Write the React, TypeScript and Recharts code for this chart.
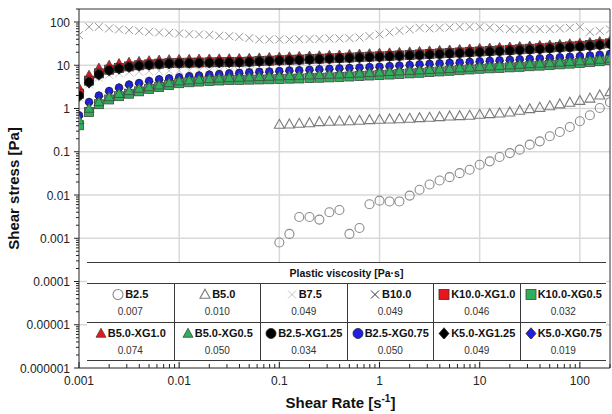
import React from "react";
import { ScatterChart, Scatter, XAxis, YAxis, ReferenceLine, Label } from "recharts";

const FONT = '"Liberation Sans", Arial, sans-serif';

// shear rate steps of the flow curves [1/s]
const SHEAR_RATE = [
  0.001, 0.00126, 0.00158, 0.002, 0.00251, 0.00316, 0.00398, 0.00501, 0.00631, 0.00794,
  0.01, 0.0126, 0.0158, 0.02, 0.0251, 0.0316, 0.0398, 0.0501, 0.0631, 0.0794,
  0.1, 0.126, 0.158, 0.2, 0.251, 0.316, 0.398, 0.501, 0.631, 0.794,
  1, 1.26, 1.58, 2, 2.51, 3.16, 3.98, 5.01, 6.31, 7.94,
  10, 12.6, 15.8, 20, 25.1, 31.6, 39.8, 50.1, 63.1, 79.4,
  100, 126, 158, 200,
];
// B2.5 and B5.0 were only measured from 0.1 1/s
const SHEAR_RATE_LOW = SHEAR_RATE.slice(20);

// shear stress [Pa]
const B2_5 = [
  0.0008, 0.00126, 0.0031, 0.0031, 0.0027, 0.004, 0.0045, 0.00126, 0.00173, 0.0061,
  0.0074, 0.0071, 0.0071, 0.0097, 0.0132, 0.0175, 0.0217, 0.0259, 0.032, 0.0384,
  0.05, 0.06, 0.0755, 0.093, 0.112, 0.146, 0.174, 0.228, 0.286, 0.374,
  0.507, 0.7, 1.03, 1.4,
];
const B5_0 = [
  0.426, 0.433, 0.45, 0.464, 0.49, 0.5, 0.508, 0.516, 0.527, 0.545,
  0.556, 0.565, 0.574, 0.587, 0.606, 0.619, 0.64, 0.664, 0.674, 0.689,
  0.726, 0.75, 0.778, 0.82, 0.9, 0.98, 1.05, 1.14, 1.26, 1.38,
  1.52, 1.72, 2.03, 2.42,
];
const B7_5 = [
  1.8, 3.6, 5.2, 6.0, 6.5, 6.9, 7.1, 7.3, 7.4, 7.5,
  7.5, 7.5, 7.5, 7.4, 7.4, 7.3, 7.3, 7.2, 7.1, 7.0,
  7.0, 7.1, 7.2, 7.3, 7.5, 7.6, 7.8, 8.0, 8.2, 8.4,
  8.6, 8.8, 9.1, 9.4, 9.7, 10.0, 10.3, 10.6, 10.8, 11.1,
  11.4, 11.7, 12.0, 12.3, 12.7, 13.0, 13.3, 13.7, 14.1, 14.5,
  15.0, 15.5, 16.2, 16.9,
];
const B10_0 = [
  49.8, 77.4, 77.4, 71.1, 67.4, 64.9, 62.5, 59.3, 57.4, 56.2,
  54.5, 52.5, 51.6, 50.6, 48.0, 47.2, 45.4, 42.5, 39.5, 39.5,
  39.5, 39.5, 40.2, 40.2, 40.8, 41.7, 41.7, 42.4, 44.0, 47.2,
  51.6, 57.4, 62.5, 67.4, 73.4, 71.1, 73.4, 75.0, 77.4, 77.4,
  77.4, 75.0, 71.1, 68.5, 68.5, 68.5, 68.5, 68.5, 71.1, 73.4,
  77.4, 59.3, 62.5, 67.4,
];
const K10_XG1_0 = [
  2.2, 4.4, 6.5, 7.9, 8.7, 9.4, 10.0, 10.5, 10.9, 11.2,
  11.4, 11.5, 11.6, 11.7, 11.8, 11.9, 12.0, 12.2, 12.5, 12.8,
  13.1, 13.4, 13.6, 13.9, 14.2, 14.5, 14.8, 15.1, 15.4, 15.8,
  16.1, 16.5, 16.9, 17.3, 17.8, 18.3, 18.8, 19.3, 19.8, 20.4,
  20.9, 21.5, 22.1, 22.7, 23.4, 24.1, 24.8, 25.6, 26.4, 27.3,
  28.2, 29.3, 30.6, 32.2,
];
const K10_XG0_5 = [
  0.41, 0.83, 1.26, 1.62, 1.93, 2.2, 2.5, 2.85, 3.15, 3.5,
  3.85, 4.05, 4.2, 4.35, 4.45, 4.55, 4.6, 4.65, 4.7, 4.75,
  4.8, 4.9, 4.95, 5.05, 5.15, 5.25, 5.35, 5.5, 5.65, 5.8,
  5.95, 6.1, 6.3, 6.5, 6.7, 6.95, 7.2, 7.45, 7.7, 8.0,
  8.3, 8.5, 8.7, 8.95, 9.2, 9.5, 9.8, 10.1, 10.5, 10.9,
  11.3, 11.8, 12.4, 13.1,
];
const B5_XG1_0 = [
  3.0, 5.8, 8.5, 9.9, 10.8, 11.6, 12.1, 12.6, 13.0, 13.3,
  13.5, 13.6, 13.7, 13.8, 13.9, 14.0, 14.1, 14.3, 14.6, 14.9,
  15.2, 15.5, 15.8, 16.1, 16.4, 16.8, 17.1, 17.5, 17.9, 18.3,
  18.7, 19.1, 19.6, 20.1, 20.6, 21.2, 21.7, 22.3, 22.9, 23.5,
  24.1, 24.7, 25.4, 26.1, 26.8, 27.5, 28.3, 29.1, 30.0, 30.9,
  31.9, 33.2, 34.8, 36.6,
];
const B5_XG0_5 = [
  0.54, 1.0, 1.42, 1.85, 2.2, 2.55, 2.9, 3.15, 3.45, 3.9,
  4.3, 4.5, 4.7, 4.85, 5.0, 5.1, 5.2, 5.3, 5.4, 5.5,
  5.6, 5.7, 5.8, 5.9, 6.0, 6.1, 6.2, 6.35, 6.5, 6.7,
  6.9, 7.1, 7.3, 7.5, 7.7, 7.9, 8.1, 8.3, 8.6, 8.9,
  9.2, 9.5, 9.8, 10.1, 10.4, 10.7, 11.0, 11.3, 11.7, 12.1,
  12.5, 13.0, 13.6, 14.3,
];
const B2_5_XG1_25 = [
  2.0, 4.1, 6.2, 7.7, 8.4, 9.2, 9.8, 10.3, 10.7, 11.0,
  11.2, 11.3, 11.4, 11.5, 11.6, 11.7, 11.8, 12.0, 12.3, 12.6,
  12.9, 13.1, 13.3, 13.6, 13.9, 14.2, 14.5, 14.8, 15.1, 15.4,
  15.7, 16.1, 16.5, 16.9, 17.3, 17.8, 18.2, 18.7, 19.2, 19.7,
  20.2, 20.7, 21.3, 21.9, 22.5, 23.1, 23.8, 24.5, 25.3, 26.1,
  27.0, 28.2, 29.6, 31.3,
];
const B2_5_XG0_75 = [
  0.7, 1.42, 2.0, 2.55, 3.05, 3.6, 3.9, 4.35, 4.75, 5.0,
  5.3, 5.6, 5.8, 6.1, 6.3, 6.5, 6.7, 6.9, 7.1, 7.2,
  7.4, 7.6, 7.7, 7.9, 8.1, 8.3, 8.5, 8.7, 8.9, 9.1,
  9.3, 9.6, 9.9, 10.2, 10.5, 10.8, 11.1, 11.4, 11.7, 12.0,
  12.4, 12.7, 13.0, 13.4, 13.8, 14.1, 14.5, 14.9, 15.3, 15.8,
  16.3, 16.9, 17.6, 18.4,
];
const K5_XG1_25 = [
  1.9, 3.9, 5.9, 7.4, 8.2, 9.0, 9.6, 10.1, 10.5, 10.8,
  11.0, 11.1, 11.2, 11.3, 11.4, 11.5, 11.6, 11.8, 12.1, 12.4,
  12.7, 12.9, 13.1, 13.4, 13.7, 14.0, 14.3, 14.6, 14.9, 15.2,
  15.5, 15.9, 16.3, 16.7, 17.1, 17.6, 18.0, 18.5, 19.0, 19.5,
  20.0, 20.5, 21.1, 21.7, 22.3, 22.9, 23.6, 24.3, 25.1, 25.9,
  26.8, 28.0, 29.4, 31.0,
];
const K5_XG0_75 = [
  0.66, 1.35, 1.9, 2.45, 2.95, 3.45, 3.75, 4.2, 4.55, 4.8,
  5.1, 5.4, 5.6, 5.85, 6.05, 6.25, 6.45, 6.6, 6.8, 6.9,
  7.1, 7.3, 7.4, 7.6, 7.8, 8.0, 8.2, 8.4, 8.5, 8.7,
  8.9, 9.2, 9.5, 9.8, 10.1, 10.4, 10.7, 11.0, 11.2, 11.5,
  11.9, 12.2, 12.5, 12.9, 13.2, 13.5, 13.9, 14.3, 14.7, 15.2,
  15.6, 16.2, 16.9, 17.7,
];

const SERIES_NAMES = [
  "B2.5", "B5.0", "B7.5", "B10.0", "K10.0-XG1.0", "K10.0-XG0.5",
  "B5.0-XG1.0", "B5.0-XG0.5", "B2.5-XG1.25", "B2.5-XG0.75", "K5.0-XG1.25", "K5.0-XG0.75",
];
const SERIES_VALUES = [
  B2_5, B5_0, B7_5, B10_0, K10_XG1_0, K10_XG0_5,
  B5_XG1_0, B5_XG0_5, B2_5_XG1_25, B2_5_XG0_75, K5_XG1_25, K5_XG0_75,
];
// plastic viscosity [Pa·s], same order
const PLASTIC_VISCOSITY = [
  "0.007", "0.010", "0.049", "0.049", "0.046", "0.032",
  "0.074", "0.050", "0.034", "0.050", "0.049", "0.019",
];
// stacking of the marks, bottom first
const DRAW_ORDER = [
  "B2.5", "B5.0", "B7.5", "B10.0",
  "K5.0-XG0.75", "B2.5-XG0.75", "K10.0-XG0.5", "B5.0-XG0.5",
  "B5.0-XG1.0", "K10.0-XG1.0", "K5.0-XG1.25", "B2.5-XG1.25",
];

const X_MAJOR = [0.001, 0.01, 0.1, 1, 10, 100];
const X_LABELS = ["0.001", "0.01", "0.1", "1", "10", "100"];
const Y_MAJOR = [0.000001, 0.00001, 0.0001, 0.001, 0.01, 0.1, 1, 10, 100];
const Y_LABELS = ["0.000001", "0.00001", "0.0001", "0.001", "0.01", "0.1", "1", "10", "100"];

type Kind = "circleOpen" | "triOpen" | "cross" | "square" | "triangle" | "circle" | "diamond";
interface Look { kind: Kind; fill: string; stroke: string; size: number }

const LOOK: Record<string, Look> = {
  "B2.5": { kind: "circleOpen", fill: "none", stroke: "#8a8a8a", size: 9 },
  "B5.0": { kind: "triOpen", fill: "none", stroke: "#7a7a7a", size: 10 },
  "B7.5": { kind: "cross", fill: "none", stroke: "#c4c4c4", size: 8 },
  "B10.0": { kind: "cross", fill: "none", stroke: "#999", size: 8 },
  "K10.0-XG1.0": { kind: "square", fill: "#e8161b", stroke: "#333", size: 9 },
  "K10.0-XG0.5": { kind: "square", fill: "#2fae5b", stroke: "#444", size: 9 },
  "B5.0-XG1.0": { kind: "triangle", fill: "#e8161b", stroke: "#444", size: 10 },
  "B5.0-XG0.5": { kind: "triangle", fill: "#2fae5b", stroke: "#444", size: 10 },
  "B2.5-XG1.25": { kind: "circle", fill: "#000", stroke: "#222", size: 9 },
  "B2.5-XG0.75": { kind: "circle", fill: "#1f1fe6", stroke: "#222", size: 7.5 },
  "K5.0-XG1.25": { kind: "diamond", fill: "#000", stroke: "#222", size: 9 },
  "K5.0-XG0.75": { kind: "diamond", fill: "#1f1fe6", stroke: "#222", size: 8 },
};
// the legend shows the B10.0 cross darker than the thin plot marks
const LEGEND_STROKE: Record<string, string> = { "B10.0": "#333" };

const minorTicks = (majors: number[], top: number) => {
  const out: number[] = [];
  majors.forEach((m) => {
    for (let k = 1; k < 10; k++) if (m * k <= top * 1.0001) out.push(m * k);
  });
  return out;
};
const X_TICKS = minorTicks(X_MAJOR, 200);
const Y_TICKS = minorTicks(Y_MAJOR, 200);

function Marker({ cx, cy, look }: { cx?: number; cy?: number; look: Look }) {
  if (cx == null || cy == null) return null;
  const h = look.size / 2;
  const sw = look.kind === "circleOpen" || look.kind === "triOpen" ? 1.1 : 0.8;
  switch (look.kind) {
    case "circleOpen":
    case "circle":
      return <circle cx={cx} cy={cy} r={h} fill={look.fill} stroke={look.stroke} strokeWidth={sw} />;
    case "square":
      return <rect x={cx - h} y={cy - h} width={look.size} height={look.size} fill={look.fill} stroke={look.stroke} strokeWidth={sw} />;
    case "triOpen":
    case "triangle":
      return (
        <polygon
          points={`${cx},${cy - h * 1.05} ${cx + h},${cy + h * 0.75} ${cx - h},${cy + h * 0.75}`}
          fill={look.fill}
          stroke={look.stroke}
          strokeWidth={sw}
        />
      );
    case "diamond":
      return (
        <polygon
          points={`${cx},${cy - h * 1.15} ${cx + h},${cy} ${cx},${cy + h * 1.15} ${cx - h},${cy}`}
          fill={look.fill}
          stroke={look.stroke}
          strokeWidth={sw}
        />
      );
    case "cross":
      return (
        <g stroke={look.stroke} strokeWidth={1}>
          <line x1={cx - h} y1={cy - h} x2={cx + h} y2={cy + h} />
          <line x1={cx - h} y1={cy + h} x2={cx + h} y2={cy - h} />
        </g>
      );
  }
  return null;
}

function XTick(props: any) {
  const { x, y, payload } = props;
  const i = X_MAJOR.indexOf(payload.value);
  return (
    <g>
      <line x1={x} x2={x} y1={y} y2={y - (i >= 0 ? 6 : 4)} stroke="#222" strokeWidth={1} />
      {i >= 0 && (
        <text x={x} y={y + 17} textAnchor="middle" fontSize={12} fill="#222" fontFamily={FONT}>
          {X_LABELS[i]}
        </text>
      )}
    </g>
  );
}

function YTick(props: any) {
  const { x, y, payload } = props;
  const i = Y_MAJOR.indexOf(payload.value);
  return (
    <g>
      <line x1={x} x2={x - (i >= 0 ? 5 : 3)} y1={y} y2={y} stroke="#222" strokeWidth={1} />
      {i >= 0 && (
        <text x={x - 9} y={y + 4.5} textAnchor="end" fontSize={12} fill="#222" fontFamily={FONT}>
          {Y_LABELS[i]}
        </text>
      )}
    </g>
  );
}

function XTitle(props: any) {
  const { x, y, width } = props.viewBox;
  return (
    <text x={x + width / 2 - 4} y={y + 40} textAnchor="middle" fontSize={15} fontWeight="bold" fill="#111" fontFamily={FONT}>
      <tspan>Shear Rate [s</tspan>
      <tspan dy={-6} fontSize={10}>-1</tspan>
      <tspan dy={6}>]</tspan>
    </text>
  );
}

function YTitle(props: any) {
  const { y, height } = props.viewBox;
  const cx = 19;
  const cy = y + height / 2;
  return (
    <text x={cx} y={cy} transform={`rotate(-90 ${cx} ${cy})`} textAnchor="middle" fontSize={15} fontWeight="bold" fill="#111" fontFamily={FONT}>
      Shear stress [Pa]
    </text>
  );
}

function LegendTable() {
  const line = "1px solid #3a3a3a";
  return (
    <div
      style={{
        position: "absolute",
        left: 87,
        top: 262,
        width: 519,
        background: "#fff",
        borderTop: line,
        borderBottom: line,
        fontFamily: FONT,
        color: "#111",
      }}
    >
      <div style={{ height: 20, lineHeight: "20px", borderBottom: line, textAlign: "center", fontWeight: "bold", fontSize: 10.5 }}>
        Plastic viscosity [Pa·s]
      </div>
      {[0, 1].map((r) => (
        <div key={r} style={{ display: "flex", height: r === 0 ? 38 : 37, borderBottom: r === 0 ? line : "none" }}>
          {SERIES_NAMES.slice(r * 6, r * 6 + 6).map((n, c) => (
            <div
              key={n}
              style={{
                flex: "0 0 86.5px",
                boxSizing: "border-box",
                borderLeft: c > 0 ? line : "none",
                textAlign: "center",
              }}
            >
              <div
                style={{
                  marginTop: 3,
                  height: 13,
                  display: "flex",
                  alignItems: "center",
                  justifyContent: "center",
                  fontWeight: "bold",
                  fontSize: 11,
                }}
              >
                <svg width={12} height={12} style={{ marginRight: 1 }}>
                  <Marker
                    cx={6}
                    cy={6.5}
                    look={{
                      ...LOOK[n],
                      stroke: LEGEND_STROKE[n] || LOOK[n].stroke,
                      size: LOOK[n].kind === "cross" ? 8 : 10,
                    }}
                  />
                </svg>
                {n}
              </div>
              <div style={{ marginTop: 6, fontSize: 10, lineHeight: "12px", color: "#333" }}>
                {PLASTIC_VISCOSITY[r * 6 + c]}
              </div>
            </div>
          ))}
        </div>
      ))}
    </div>
  );
}

export default function App() {
  return (
    <div style={{ position: "absolute", left: 0, top: 0, width: 612, height: 414, background: "#fff" }}>
      <ScatterChart width={612} height={414} margin={{ top: 9, right: 2, bottom: 0, left: 9 }}>
        <XAxis
          dataKey="x"
          type="number"
          scale="log"
          domain={[0.001, 200]}
          allowDataOverflow
          ticks={X_TICKS}
          interval={0}
          tick={<XTick />}
          tickLine={false}
          tickSize={0}
          tickMargin={0}
          height={46}
          axisLine={{ stroke: "#222", strokeWidth: 1 }}
        >
          <Label content={<XTitle />} />
        </XAxis>
        <YAxis
          dataKey="y"
          type="number"
          scale="log"
          domain={[0.000001, 200]}
          allowDataOverflow
          ticks={Y_TICKS}
          interval={0}
          tick={<YTick />}
          tickLine={false}
          tickSize={0}
          tickMargin={0}
          width={70}
          axisLine={{ stroke: "#222", strokeWidth: 1 }}
        >
          <Label content={<YTitle />} />
        </YAxis>
        {X_MAJOR.slice(1).map((v) => (
          <ReferenceLine key={"gx" + v} x={v} stroke="#d9d9d9" strokeWidth={1.5} />
        ))}
        {Y_MAJOR.slice(1).map((v) => (
          <ReferenceLine key={"gy" + v} y={v} stroke="#d9d9d9" strokeWidth={1.5} />
        ))}
        <ReferenceLine x={200} stroke="#333" strokeWidth={1} />
        <ReferenceLine y={200} stroke="#333" strokeWidth={1} />
        {DRAW_ORDER.map((n) => {
          const vals = SERIES_VALUES[SERIES_NAMES.indexOf(n)];
          const xs = vals.length === SHEAR_RATE.length ? SHEAR_RATE : SHEAR_RATE_LOW;
          const data = vals.map((y, i) => ({ x: xs[i], y }));
          return (
            <Scatter
              key={n}
              name={n}
              data={data}
              isAnimationActive={false}
              shape={(p: any) => <Marker cx={p.cx} cy={p.cy} look={LOOK[n]} />}
            />
          );
        })}
      </ScatterChart>
      <LegendTable />
    </div>
  );
}
